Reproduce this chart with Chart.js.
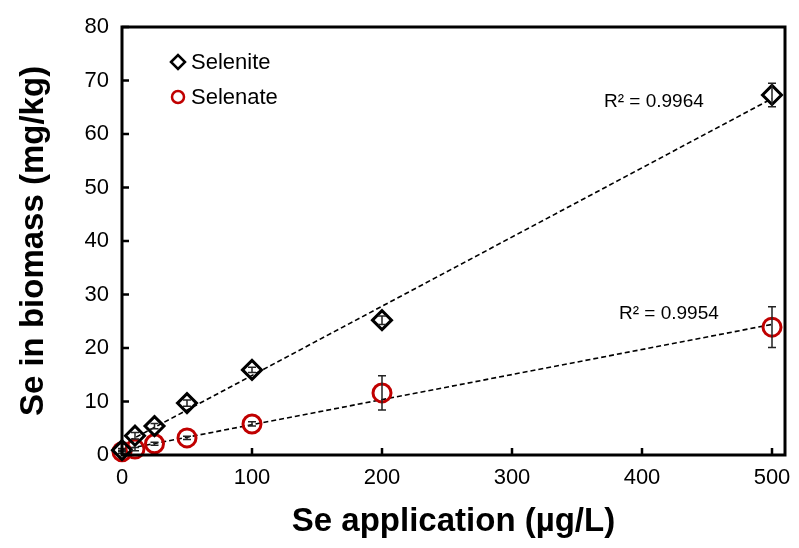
<!DOCTYPE html>
<html>
<head>
<meta charset="utf-8">
<script src="https://cdn.jsdelivr.net/npm/chart.js@4.4.1/dist/chart.umd.min.js"></script>
<style>
    html, body { margin: 0; padding: 0; background: #fff; }
    #wrap { width: 799px; height: 548px; position: relative; }
</style>
</head>
<body>
<div id="wrap"><canvas id="seChart"></canvas></div>
<script>
// Se application levels (µg/L)
const doses = [0, 10, 25, 50, 100, 200, 500];
// Se in biomass (mg/kg)
const selenite = [0.9, 3.6, 5.4, 9.7, 15.9, 25.2, 67.3];
const seleniteErr = [0.3, 0.6, 0.5, 0.6, 0.5, 0.8, 2.2];
const selenate = [0.6, 1.1, 2.1, 3.2, 5.8, 11.6, 23.9];
const selenateErr = [0.3, 0.3, 0.3, 0.3, 0.4, 3.2, 3.8];
const xTicks = [0, 100, 200, 300, 400, 500];
const yTicks = [0, 10, 20, 30, 40, 50, 60, 70, 80];
const r2Labels = ['R² = 0.9964', 'R² = 0.9954'];

const RED = '#C00000';
const FONT = "'Liberation Sans', Arial, sans-serif";

// least squares trend line, like Excel's linear trendline
function trend(xs, ys) {
    const n = xs.length;
    const mx = xs.reduce((a, b) => a + b, 0) / n;
    const my = ys.reduce((a, b) => a + b, 0) / n;
    let sxy = 0, sxx = 0;
    xs.forEach((x, i) => { sxy += (x - mx) * (ys[i] - my); sxx += (x - mx) * (x - mx); });
    const b = sxy / sxx;
    const a = my - b * mx;
    const x0 = xs[0], x1 = xs[n - 1];
    return [{ x: x0, y: a + b * x0 }, { x: x1, y: a + b * x1 }];
}

const pts = (ys) => doses.map((x, i) => ({ x: x, y: ys[i] }));

// error bars, plot frame, inward ticks, legend and R² labels
const decorations = {
    id: 'decorations',
    afterDatasetsDraw(chart) {
        const { ctx, chartArea: area, scales: { x, y } } = chart;
        ctx.save();

        ctx.strokeStyle = '#222';
        ctx.lineWidth = 1.5;
        [[selenite, seleniteErr], [selenate, selenateErr]].forEach(([vals, errs]) => {
            vals.forEach((v, i) => {
                const px = x.getPixelForValue(doses[i]);
                const top = y.getPixelForValue(v + errs[i]);
                const bot = y.getPixelForValue(v - errs[i]);
                ctx.beginPath();
                ctx.moveTo(px, top); ctx.lineTo(px, bot);
                ctx.moveTo(px - 4, top); ctx.lineTo(px + 4, top);
                ctx.moveTo(px - 4, bot); ctx.lineTo(px + 4, bot);
                ctx.stroke();
            });
        });

        // frame
        ctx.strokeStyle = '#000';
        ctx.lineWidth = 3;
        ctx.strokeRect(area.left, area.top, area.right - area.left, area.bottom - area.top);

        // inward tick marks
        ctx.lineWidth = 2.5;
        ctx.beginPath();
        xTicks.forEach(v => {
            const px = x.getPixelForValue(v);
            ctx.moveTo(px, area.bottom); ctx.lineTo(px, area.bottom - 7);
        });
        yTicks.forEach(v => {
            const py = y.getPixelForValue(v);
            ctx.moveTo(area.left, py); ctx.lineTo(area.left + 7, py);
        });
        ctx.stroke();

        // legend
        ctx.lineWidth = 2.5;
        ctx.beginPath();
        ctx.moveTo(171, 62); ctx.lineTo(178, 55); ctx.lineTo(185, 62); ctx.lineTo(178, 69);
        ctx.closePath();
        ctx.stroke();
        ctx.strokeStyle = RED;
        ctx.beginPath();
        ctx.arc(178, 97, 6, 0, Math.PI * 2);
        ctx.stroke();

        ctx.fillStyle = '#000';
        ctx.textBaseline = 'middle';
        ctx.font = '22px ' + FONT;
        ctx.fillText('Selenite', 191, 63);
        ctx.fillText('Selenate', 191, 98);

        ctx.font = '19px ' + FONT;
        ctx.fillText(r2Labels[0], 604, 102);
        ctx.fillText(r2Labels[1], 619, 314);

        ctx.restore();
    }
};

new Chart(document.getElementById('seChart'), {
    type: 'scatter',
    data: {
        datasets: [
            {
                label: 'Selenite',
                data: pts(selenite),
                pointStyle: 'rectRot',
                pointRadius: 9.5,
                pointHoverRadius: 9.5,
                borderColor: '#000',
                backgroundColor: 'rgba(0,0,0,0)',
                pointBorderWidth: 3,
                clip: false,
            },
            {
                label: 'Selenate',
                data: pts(selenate),
                pointStyle: 'circle',
                pointRadius: 9,
                pointHoverRadius: 9,
                borderColor: RED,
                backgroundColor: 'rgba(0,0,0,0)',
                pointBorderWidth: 3,
                clip: false,
            },
            {
                type: 'line',
                label: 'Selenite trend',
                data: trend(doses, selenite),
                borderColor: '#000',
                borderWidth: 1.6,
                borderDash: [5, 3],
                pointRadius: 0,
                fill: false,
            },
            {
                type: 'line',
                label: 'Selenate trend',
                data: trend(doses, selenate),
                borderColor: '#000',
                borderWidth: 1.6,
                borderDash: [5, 3],
                pointRadius: 0,
                fill: false,
            }
        ]
    },
    options: {
        responsive: true,
        maintainAspectRatio: false,
        animation: false,
        layout: { padding: { top: 27, right: 14, bottom: 0, left: 0 } },
        plugins: {
            legend: { display: false },
            tooltip: { enabled: false },
        },
        scales: {
            x: {
                type: 'linear',
                min: 0,
                max: 510,
                afterBuildTicks: scale => { scale.ticks = xTicks.map(v => ({ value: v })); },
                afterFit: scale => { scale.height = 93; scale.paddingRight = 0; },
                grid: { display: false, drawTicks: false },
                border: { display: false },
                ticks: {
                    color: '#000',
                    padding: 10,
                    font: { family: FONT, size: 22 },
                },
                title: {
                    display: true,
                    text: 'Se application (µg/L)',
                    color: '#000',
                    font: { family: FONT, size: 33, weight: 'bold' },
                    padding: { top: 0, bottom: 6 },
                }
            },
            y: {
                min: 0,
                max: 80,
                afterBuildTicks: scale => { scale.ticks = yTicks.map(v => ({ value: v })); },
                afterFit: scale => { scale.width = 122; },
                grid: { display: false, drawTicks: false },
                border: { display: false },
                ticks: {
                    color: '#000',
                    padding: 13,
                    font: { family: FONT, size: 22 },
                },
                title: {
                    display: true,
                    text: 'Se in biomass (mg/kg)',
                    color: '#000',
                    font: { family: FONT, size: 33, weight: 'bold' },
                    padding: { top: 14, bottom: 0 },
                }
            }
        }
    },
    plugins: [decorations]
});
</script>
</body>
</html>
